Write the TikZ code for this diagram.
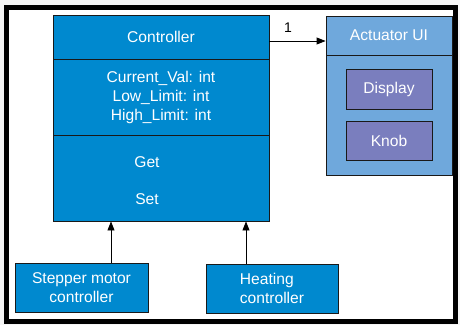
\documentclass[tikz,border=0pt]{standalone}
\usepackage{fontspec}
\setmainfont{Liberation Sans}
\usetikzlibrary{arrows.meta}
\definecolor{ctrlblue}{RGB}{0,137,207}
\definecolor{actblue}{RGB}{111,168,220}
\definecolor{purp}{RGB}{122,126,190}
\definecolor{edge}{RGB}{25,25,25}
\tikzset{
  box/.style={draw=edge, line width=0.9pt, inner sep=0pt, text=white, align=center,
    font=\fontsize{15.6}{19}\selectfont},
  cbox/.style={box, fill=ctrlblue},
  abox/.style={box, fill=actblue},
  pbox/.style={box, fill=purp},
  txt/.style={inner sep=0pt, text=white, font=\fontsize{15.6}{19}\selectfont},
  arr/.style={line width=0.9pt, -{Triangle[length=9pt,width=7pt]}}
}
\begin{document}
\begin{tikzpicture}[x=1pt,y=-1pt]
\fill[gray!8] (0,0) rectangle (460,325);
\useasboundingbox (0,0) rectangle (460,325);
\draw[line width=5pt, fill=white] (6.5,7.5) rectangle (455.5,321.5);
% Controller
\node[cbox, minimum width=216pt, minimum height=44pt] (ctrlhead) at (161,37) {Controller};
\node[cbox, minimum width=216pt, minimum height=76pt] (ctrlattr) at (161,97) {Current\_Val: int\\Low\_Limit: int\\High\_Limit: int};
\node[cbox, minimum width=216pt, minimum height=86pt] (ctrlmeth) at (161,178) {};
\node[txt] (get) at (147,162) {Get};
\node[txt] (set) at (147,199) {Set};
% Actuator UI
\node[abox, minimum width=126pt, minimum height=39pt] (acthead) at (389,35.5) {Actuator UI};
\node[abox, minimum width=126pt, minimum height=120pt] (actbody) at (389,115) {};
\node[pbox, minimum width=86pt, minimum height=40pt] (display) at (389,89) {Display};
\node[pbox, minimum width=86pt, minimum height=39pt] (knob) at (389,140.5) {Knob};
% Bottom boxes
\node[cbox, minimum width=133pt, minimum height=49pt] (stepper) at (81.5,287.5) {Stepper motor\\controller};
\node[cbox, minimum width=132pt, minimum height=49pt, align=left] (heating) at (272,288.5) {Heating\\controller};
% Connectors
\draw[arr] ([yshift=-4pt]ctrlhead.east) -- node[pos=0.33, above=8pt, text=black, inner sep=0pt, font=\fontsize{14}{16}\selectfont] {1} ([yshift=-4pt]ctrlhead.east -| acthead.west);
\draw[arr] ([xshift=29.5pt]stepper.north) -- ([xshift=29.5pt]stepper.north |- ctrlmeth.south);
\draw[arr] ([xshift=-26pt]heating.north) -- ([xshift=-26pt]heating.north |- ctrlmeth.south);
\end{tikzpicture}
\end{document}
